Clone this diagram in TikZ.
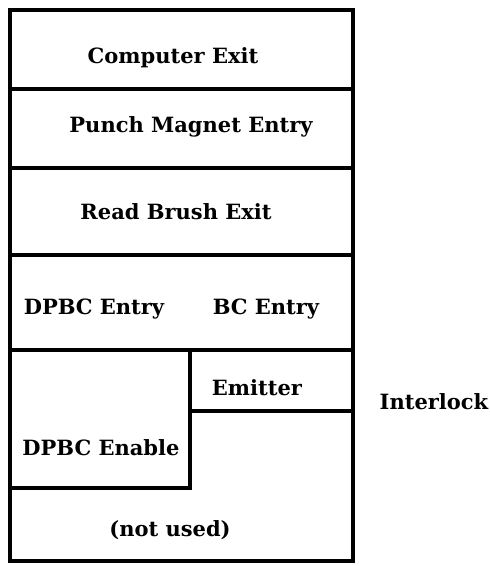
\documentclass[tikz,border=0pt]{standalone}
\usepackage{fontspec}
\setmainfont{DejaVu Serif}
\begin{document}
\begin{tikzpicture}[x=1pt,y=-1pt,
  rule/.style={line width=3.6pt,line cap=rect},
  lbl/.style={inner sep=0pt,font=\bfseries\fontsize{21}{24}\selectfont,anchor=center}]
\useasboundingbox (0,0) rectangle (490,566);
% outer frame and dividers
\draw[rule] (10,10) rectangle (353,561);
\draw[rule] (10,89) -- (353,89);
\draw[rule] (10,168) -- (353,168);
\draw[rule] (10,255) -- (353,255);
\draw[rule] (10,350) -- (353,350);
\draw[rule] (190,350) -- (190,488);
\draw[rule] (190,411) -- (353,411);
\draw[rule] (10,488) -- (190,488);
% labels
\node[lbl] (ce) at (173,58) {Computer Exit};
\node[lbl] (pme) at (191,127) {Punch Magnet Entry};
\node[lbl] (rbe) at (176,212) {Read Brush Exit};
\node[lbl] (dpe) at (94,309) {DPBC Entry};
\node[lbl] (bce) at (266,309) {BC Entry};
\node[lbl] (em) at (257,388) {Emitter};
\node[lbl] (il) at (434,402) {Interlock};
\node[lbl] (dpen) at (101,448) {DPBC Enable};
\node[lbl] (nu) at (170,530) {(not used)};
\end{tikzpicture}
\end{document}
